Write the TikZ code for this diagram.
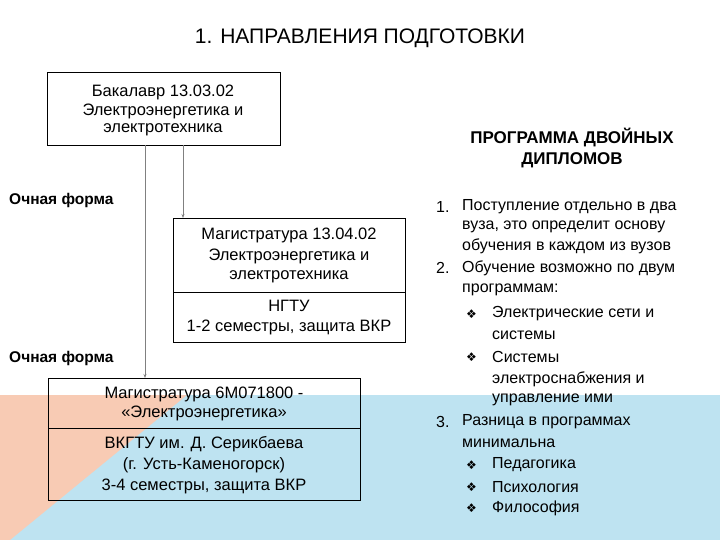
\documentclass[tikz,border=0pt]{standalone}
\usepackage{fontspec}
\usetikzlibrary{arrows.meta}
\setmainfont{Liberation Sans}
\newfontfamily\symf{DejaVu Sans}
\definecolor{bgorange}{HTML}{F8CBB4}
\definecolor{bgblue}{HTML}{BEE3F1}
\definecolor{arrowgray}{HTML}{808080}
\begin{document}
\begin{tikzpicture}[x=1pt,y=-1pt,
  box/.style={draw=black,line width=0.8pt,inner sep=0},
  txt/.style={font=\fontsize{16.5}{19}\selectfont,inner sep=0,anchor=center},
  ltxt/.style={font=\fontsize{16}{19}\selectfont,inner sep=0,anchor=west},
  sym/.style={font=\symf\fontsize{12}{14}\selectfont,inner sep=0,anchor=west},
  bold/.style={font=\bfseries\fontsize{15.5}{18}\selectfont,inner sep=0,anchor=west},
  conn/.style={draw=arrowgray,line width=0.8pt,-{Stealth[length=4pt,width=3pt]}}]
\useasboundingbox (0,0) rectangle (720,540);
\fill[white] (0,0) rectangle (720,540);
\fill[bgblue] (0,395) rectangle (720,540);
\fill[bgorange] (0,395) -- (187,395) -- (10,540) -- (0,540) -- cycle;
\node[font=\fontsize{21}{24}\selectfont,inner sep=0] (title) at (360,38) {1. НАПРАВЛЕНИЯ ПОДГОТОВКИ};
% box 1
\draw[box] (47,72) rectangle (280,145);
\node[txt] (b1a) at (163,92) {Бакалавр 13.03.02};
\node[txt] (b1b) at (163,111) {Электроэнергетика и};
\node[txt] (b1c) at (163,130) {электротехника};
\coordinate (b1l) at (145,145);
\coordinate (b1r) at (183,145);
% box 2
\draw[box] (173,218) rectangle (405,342);
\draw[line width=0.8pt] (173,292) -- (405,292);
\coordinate (b2top) at (183,218);
\node[txt] (b2a) at (289,235) {Магистратура 13.04.02};
\node[txt] (b2b) at (289,256) {Электроэнергетика и};
\node[txt] (b2c) at (289,277) {электротехника};
\node[txt] (b2d) at (289,306) {НГТУ};
\node[txt] (b2e) at (289,327) {1-2 семестры, защита ВКР};
% box 3
\draw[box] (48,378) rectangle (360,500);
\draw[line width=0.8pt] (48,428) -- (360,428);
\coordinate (b3top) at (145,378);
\node[txt] (b3a) at (204,394) {Магистратура 6М071800 -};
\node[txt] (b3b) at (204,413) {«Электроэнергетика»};
\node[txt] (b3c) at (204,444) {ВКГТУ им. Д. Серикбаева};
\node[txt] (b3d) at (204,465) {(г. Усть-Каменогорск)};
\node[txt] (b3e) at (204,486) {3-4 семестры, защита ВКР};
% arrows
\draw[conn] (b1r) -- (b2top);
\draw[conn] (b1l) -- (b3top);
\node[bold] (of1) at (9,200) {Очная форма};
\node[bold] (of2) at (9,358) {Очная форма};
% right column
\node[font=\bfseries\fontsize{17}{20}\selectfont,inner sep=0] (h1) at (572,137) {ПРОГРАММА ДВОЙНЫХ};
\node[font=\bfseries\fontsize{17}{20}\selectfont,inner sep=0] (h2) at (572,160) {ДИПЛОМОВ};
\node[ltxt] (n1) at (436,207) {1.};
\node[ltxt] (l1) at (462,207) {Поступление отдельно в два};
\node[ltxt] (l2) at (462,227) {вуза, это определит основу};
\node[ltxt] (l3) at (462,246) {обучения в каждом из вузов};
\node[ltxt] (n2) at (436,268) {2.};
\node[ltxt] (l4) at (462,268) {Обучение возможно по двум};
\node[ltxt] (l5) at (462,290) {программам:};
\node[sym] (d1) at (466,314) {❖};
\node[ltxt] (l6) at (492,314) {Электрические сети и};
\node[ltxt] (l7) at (492,335) {системы};
\node[sym] (d2) at (466,357) {❖};
\node[ltxt] (l8) at (492,357) {Системы};
\node[ltxt] (l9) at (492,379) {электроснабжения и};
\node[ltxt] (l10) at (492,400) {управление ими};
\node[ltxt] (n3) at (436,422) {3.};
\node[ltxt] (l11) at (462,422) {Разница в программах};
\node[ltxt] (l12) at (462,443) {минимальна};
\node[sym] (d3) at (466,465) {❖};
\node[ltxt] (l13) at (492,465) {Педагогика};
\node[sym] (d4) at (466,487) {❖};
\node[ltxt] (l14) at (492,487) {Психология};
\node[sym] (d5) at (466,508) {❖};
\node[ltxt] (l15) at (492,508) {Философия};
\end{tikzpicture}
\end{document}
